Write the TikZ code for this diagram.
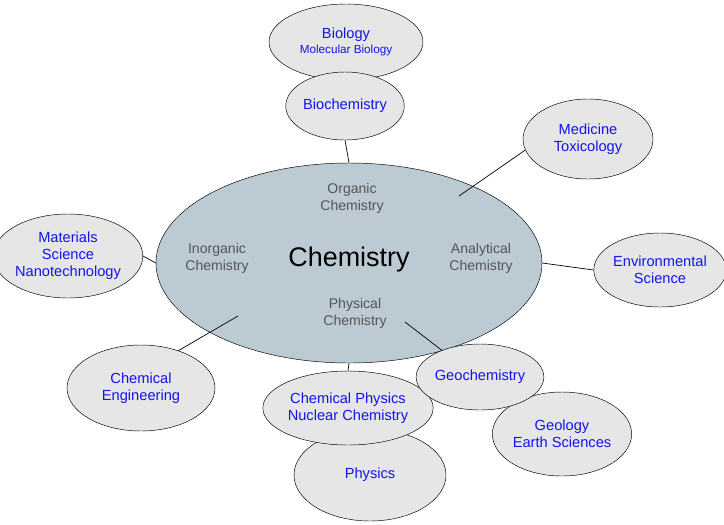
\documentclass[tikz,border=0pt]{standalone}
\usepackage{fontspec}
\setmainfont{Liberation Sans}
\usetikzlibrary{shapes.geometric}
\definecolor{mainfill}{RGB}{188,203,211}
\definecolor{subfill}{RGB}{230,230,230}
\definecolor{fieldblue}{RGB}{20,20,235}
\definecolor{branchgray}{RGB}{85,85,85}

\begin{document}
\begin{tikzpicture}[x=0.03cm,y=-0.03cm,
    field/.style={ellipse, draw, fill=subfill, inner sep=0pt, align=center,
      text=fieldblue, font=\fontsize{12.5}{14.5}\selectfont},
    branch/.style={align=center, text=branchgray, font=\fontsize{12}{14.5}\selectfont},
    link/.style={draw, line width=0.6pt}]
  \useasboundingbox (0,0) rectangle (724,524);
  % centre
  \node[ellipse, draw, fill=mainfill, minimum width=386\pgflinewidth*0+11.58cm, minimum height=6cm] (chem) at (349,263) {};
  \node[font=\fontsize{23}{26}\selectfont] (title) at (349,260) {Chemistry};
  \node[branch] (organic) at (352,198) {Organic\\Chemistry};
  \node[branch] (inorganic) at (217,258) {Inorganic\\Chemistry};
  \node[branch] (analytical) at (481,258) {Analytical\\Chemistry};
  \node[branch] (physical) at (355,313) {Physical\\Chemistry};
  % outer fields
  \node[field, minimum width=4.62cm, minimum height=2.28cm] (bio) at (346,42)
    {Biology\\[-2pt]{\fontsize{10}{12}\selectfont Molecular Biology}};
  \node[field, minimum width=3.42cm, minimum height=2.04cm] (biochem) at (345,106) {Biochemistry};
  \node[field, minimum width=3.9cm, minimum height=2.4cm] (med) at (588,139) {Medicine\\Toxicology};
  \node[field, minimum width=3.72cm, minimum height=2.22cm] (env) at (660,270) {Environmental\\Science};
  \node[field, minimum width=4.08cm, minimum height=2.52cm] (mat) at (68,256) {Materials\\Science\\Nanotechnology};
  \node[field, minimum width=4.44cm, minimum height=2.58cm] (eng) at (141,388) {Chemical\\Engineering};
  \node[field, minimum width=4.56cm, minimum height=2.76cm] (phys) at (370,475) {Physics};
  \node[field, minimum width=4.32cm, minimum height=2.22cm] (chemphys) at (348,408) {Chemical Physics\\Nuclear Chemistry};
  \node[field, minimum width=3.9cm, minimum height=2.52cm] (geo) at (562,434) {Geology\\Earth Sciences};
  \node[field, minimum width=2.58cm, minimum height=1.98cm] (geochem) at (480,377) {Geochemistry};
  % connectors
  \coordinate (medend) at (459,196);
  \coordinate (engend) at (238,316);
  \coordinate (geoend) at (405,322);
  \draw[link] (biochem.south) -- (chem.north);
  \draw[link] (med.190) -- (medend);
  \draw[link] (env.west) -- (chem.east);
  \draw[link] (mat.east) -- (chem.west);
  \draw[link] (eng.45) -- (engend);
  \draw[link] (chemphys.north) -- (chem.south);
  \draw[link] (geochem.145) -- (geoend);
\end{tikzpicture}
\end{document}
